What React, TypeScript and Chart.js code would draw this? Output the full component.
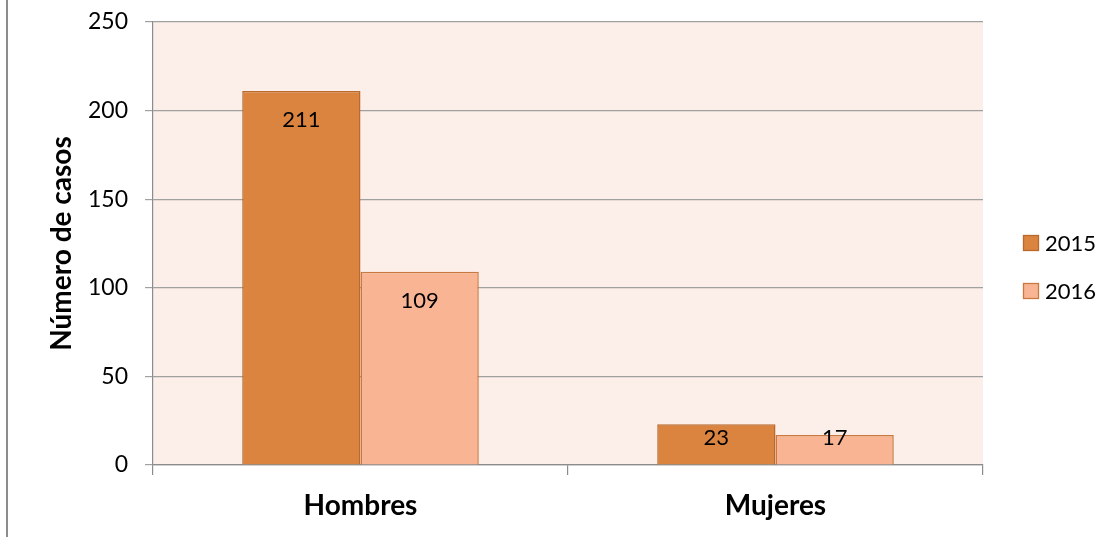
import React, { useEffect, useRef } from "react";
import { Chart, registerables } from "chart.js";

Chart.register(...registerables);

const categories = ["Hombres", "Mujeres"];
const series2015 = [211, 23];
const series2016 = [109, 17];
const seriesNames = ["2015", "2016"];
const yTicks = [0, 50, 100, 150, 200, 250];

const FONT = "Lato, 'Open Sans', sans-serif";
const fill2015 = "#DB843F";
const border2015 = "#B8692C";
const fill2016 = "#F9B593";
const border2016 = "#C9783F";

const decorPlugin = {
  id: "decor",
  beforeDraw(chart: any) {
    const { ctx, chartArea } = chart;
    ctx.save();
    ctx.fillStyle = "#FCEEE9";
    ctx.fillRect(chartArea.left, chartArea.top, chartArea.right - chartArea.left, chartArea.bottom - chartArea.top);
    ctx.strokeStyle = "#8C8C8C";
    ctx.lineWidth = 2;
    ctx.beginPath();
    ctx.moveTo(7, 0);
    ctx.lineTo(7, chart.height);
    ctx.stroke();
    ctx.restore();
  },
  afterDatasetsDraw(chart: any) {
    const { ctx } = chart;
    const yScale = chart.scales.y;
    const base = yScale.getPixelForValue(0);
    ctx.save();
    ctx.font = `22px ${FONT}`;
    ctx.fillStyle = "#000";
    ctx.textAlign = "center";
    ctx.textBaseline = "middle";
    chart.data.datasets.forEach((ds: any, di: number) => {
      const meta = chart.getDatasetMeta(di);
      meta.data.forEach((bar: any, i: number) => {
        const y = Math.min(bar.y + 28, base - 28);
        ctx.fillText(String(ds.data[i]), bar.x, y + 1);
      });
    });
    // legend
    const items = [
      { label: seriesNames[0], fill: fill2015, border: border2015 },
      { label: seriesNames[1], fill: fill2016, border: border2016 },
    ];
    ctx.textAlign = "left";
    ctx.font = `22px ${FONT}`;
    items.forEach((it, k) => {
      const cy = 243 + k * 48;
      ctx.fillStyle = it.fill;
      ctx.fillRect(1023.5, cy - 7.5, 15, 15);
      ctx.strokeStyle = it.border;
      ctx.lineWidth = 1.3;
      ctx.strokeRect(1023.5, cy - 7.5, 15, 15);
      ctx.fillStyle = "#000";
      ctx.fillText(it.label, 1045, cy + 1);
    });
    ctx.restore();
  },
};

export default function App() {
  const ref = useRef<HTMLCanvasElement | null>(null);
  useEffect(() => {
    if (!ref.current) return;
    const chart = new Chart(ref.current, {
      type: "bar",
      data: {
        labels: categories,
        datasets: [
          {
            label: seriesNames[0],
            data: series2015,
            backgroundColor: fill2015,
            borderColor: border2015,
            borderWidth: 1.5,
            categoryPercentage: 0.57,
            barPercentage: 1,
          },
          {
            label: seriesNames[1],
            data: series2016,
            backgroundColor: fill2016,
            borderColor: border2016,
            borderWidth: 1.5,
            categoryPercentage: 0.57,
            barPercentage: 1,
          },
        ],
      },
      options: {
        animation: false,
        responsive: false,
        layout: { padding: { top: 22, right: 133, bottom: 0, left: 0 } },
        plugins: { legend: { display: false }, tooltip: { enabled: false } },
        scales: {
          x: {
            afterFit: (s: any) => {
              s.height = 72;
              s.paddingLeft = 0;
              s.paddingRight = 0;
            },
            grid: {
              display: true,
              drawOnChartArea: false,
              offset: true,
              tickLength: 10,
              color: "#8C8C8C",
              lineWidth: 1.2,
            },
            border: { color: "#8C8C8C", width: 1.2 },
            ticks: { font: { family: FONT, size: 28, weight: "bold" }, color: "#000", padding: 14 },
          },
          y: {
            min: 0,
            max: 250,
            afterFit: (s: any) => {
              s.width = 153;
              s.paddingTop = 0;
              s.paddingBottom = 0;
            },
            afterBuildTicks: (s: any) => { s.ticks = yTicks.map((v) => ({ value: v })); },
            grid: { color: "#A0A0A0", lineWidth: 1.2, tickLength: 8 },
            border: { color: "#8C8C8C", width: 1.2 },
            ticks: { font: { family: FONT, size: 23 }, color: "#000", padding: 17 },
            title: {
              display: true,
              text: "Número de casos",
              font: { family: FONT, size: 28, weight: "bold" },
              color: "#000",
              padding: { top: 45, bottom: 0 },
            },
          },
        },
      },
      plugins: [decorPlugin],
    });
    return () => chart.destroy();
  }, []);
  return (
    <div style={{ position: "fixed", left: 0, top: 0, width: 1116, height: 537, background: "#fff" }}>
      <canvas ref={ref} width={1116} height={537} style={{ width: 1116, height: 537, display: "block" }} />
    </div>
  );
}
